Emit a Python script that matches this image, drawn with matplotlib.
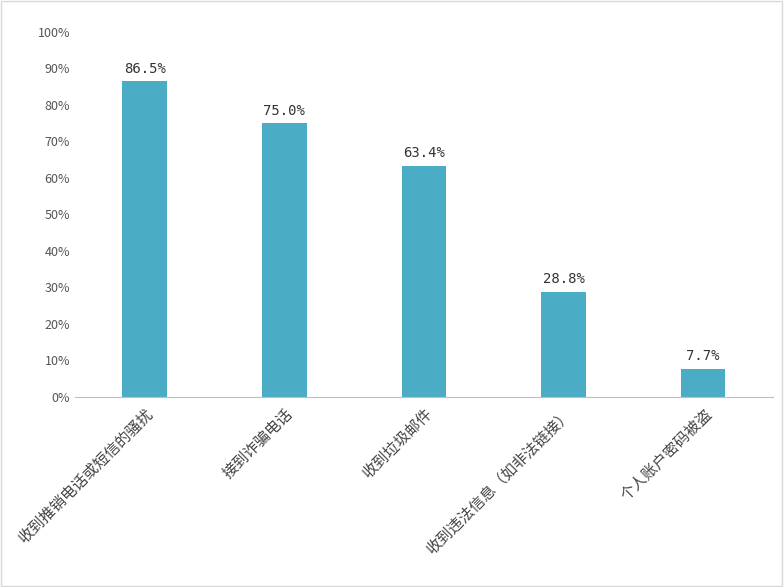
import matplotlib
matplotlib.use("Agg")
import matplotlib.pyplot as plt

plt.rcParams['font.family'] = ['Noto Sans CJK SC', 'DejaVu Sans']

categories = ["收到推销电话或短信的骚扰", "接到诈骗电话", "收到垃圾邮件", "收到违法信息（如非法链接）", "个人账户密码被盗"]
values = [86.5, 75.0, 63.4, 28.8, 7.7]
labels = ["86.5%", "75.0%", "63.4%", "28.8%", "7.7%"]
yticks = [0, 10, 20, 30, 40, 50, 60, 70, 80, 90, 100]

fig = plt.figure(figsize=(7.84, 5.87), dpi=100)
fig.patches.append(plt.Rectangle((0.001, 0.001), 0.997, 0.997, transform=fig.transFigure,
                                 fill=False, edgecolor='#d9d9d9', linewidth=1))
ax = fig.add_axes([0.0957, 0.3237, 0.89, 0.6218])
x = range(len(categories))
ax.bar(x, values, width=0.32, color='#4bacc6')
for i, (v, l) in enumerate(zip(values, labels)):
    ax.text(i, v + 1.5, l, ha='center', va='bottom', fontsize=10, color='#333333', family='DejaVu Sans Mono')
ax.set_ylim(0, 100)
ax.set_xlim(-0.5, len(categories) - 0.5)
ax.set_yticks(yticks)
ax.set_yticklabels([f"{t}%" for t in yticks], fontsize=9, color='#555555')
ax.set_xticks(list(x))
ax.set_xticklabels(categories, rotation=45, ha='right', rotation_mode='anchor', fontsize=11, color='#444444')
for s in ['top', 'right', 'left']:
    ax.spines[s].set_visible(False)
ax.spines['bottom'].set_color('#bfbfbf')
ax.tick_params(axis='both', length=0)
ax.tick_params(axis='x', pad=6)
fig.savefig("out.png", dpi=100)
